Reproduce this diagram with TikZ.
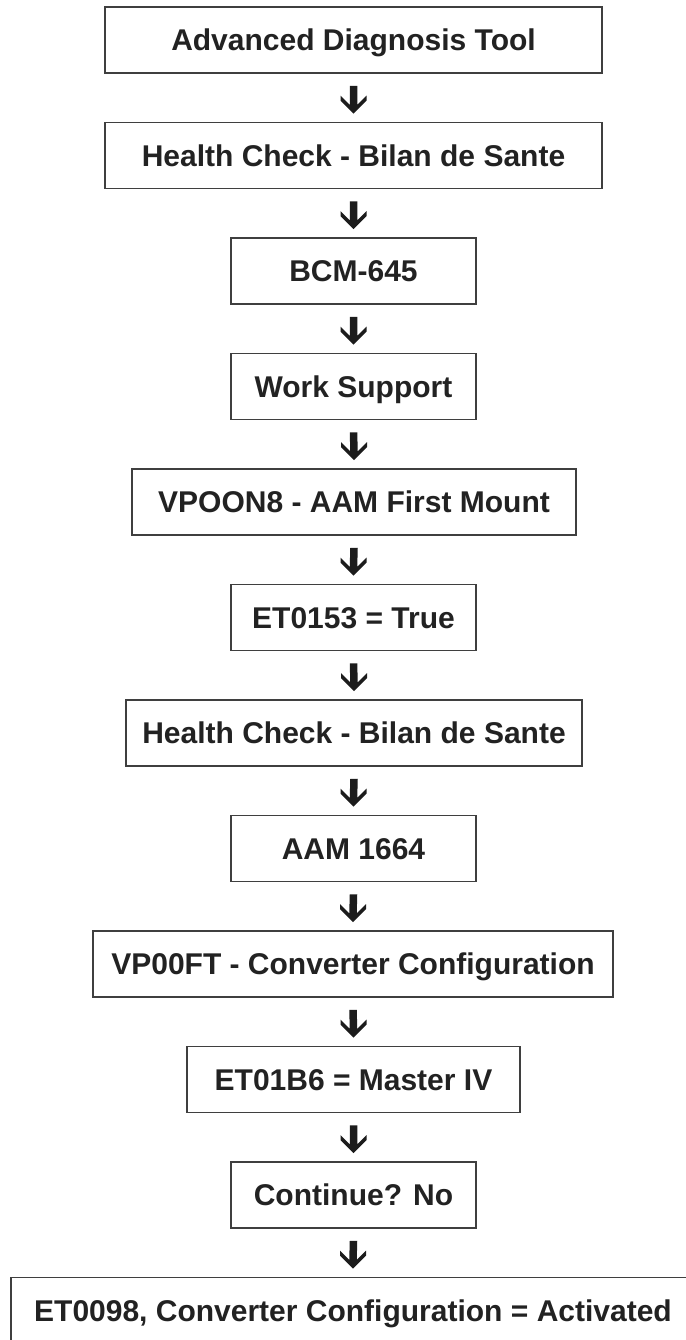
\documentclass[tikz,border=0pt]{standalone}
\usepackage{fontspec}
\setmainfont{Liberation Sans}
\definecolor{txt}{HTML}{222222}
\definecolor{edge}{HTML}{3F3F3F}
\definecolor{arr}{HTML}{1C1C1C}
\begin{document}
\begin{tikzpicture}[x=1pt,y=1pt,
  box/.style={draw=edge, line width=1.6pt, minimum height=66pt, inner sep=0pt,
    text=txt, font=\fontsize{30}{36}\selectfont\bfseries,
    text height=21.5pt, text depth=0pt},
  conn/.style={fill=arr, to path={
    ([shift={(-3.75pt,-12pt)}]\tikztostart) -- ([shift={(3.75pt,-12pt)}]\tikztostart)
    -- ([shift={(3.75pt,16.75pt)}]\tikztotarget) -- ([shift={(13pt,26pt)}]\tikztotarget)
    -- ([shift={(13pt,21pt)}]\tikztotarget) -- ([shift={(0pt,8pt)}]\tikztotarget)
    -- ([shift={(-13pt,21pt)}]\tikztotarget) -- ([shift={(-13pt,26pt)}]\tikztotarget)
    -- ([shift={(-3.75pt,16.75pt)}]\tikztotarget) -- cycle}}]
\useasboundingbox (0,0) rectangle (685,-1340);
\fill[white] (0,0) rectangle (685,-1340);
\node[box, minimum width=497pt] (n1) at (353.5,-40) {Advanced Diagnosis Tool};
\node[box, minimum width=497pt] (n2) at (353.5,-155.5) {Health Check - Bilan de Sante};
\node[box, minimum width=245pt] (n3) at (353.5,-271) {BCM-645};
\node[box, minimum width=245pt] (n4) at (353.5,-386.5) {Work Support};
\node[box, minimum width=444pt] (n5) at (354,-502) {VPOON8 - AAM First Mount};
\node[box, minimum width=245pt] (n6) at (353.5,-617.5) {ET0153 = True};
\node[box, minimum width=456pt] (n7) at (354,-733) {Health Check - Bilan de Sante};
\node[box, minimum width=245pt] (n8) at (353.5,-848.5) {AAM 1664};
\node[box, minimum width=520pt] (n9) at (353,-964) {VP00FT - Converter Configuration};
\node[box, minimum width=333pt] (n10) at (353.5,-1079.5) {ET01B6 = Master IV};
\node[box, minimum width=245pt] (n11) at (353.5,-1195) {Continue? No};
\node[box, minimum width=684pt] (n12) at (353,-1310.5) {ET0098, Converter Configuration = Activated};
\foreach \a/\b in {n1/n2,n2/n3,n3/n4,n4/n5,n5/n6,n6/n7,n7/n8,n8/n9,n9/n10,n10/n11,n11/n12}
  \path[conn] (\a.south) to (\b.north);
\end{tikzpicture}
\end{document}
